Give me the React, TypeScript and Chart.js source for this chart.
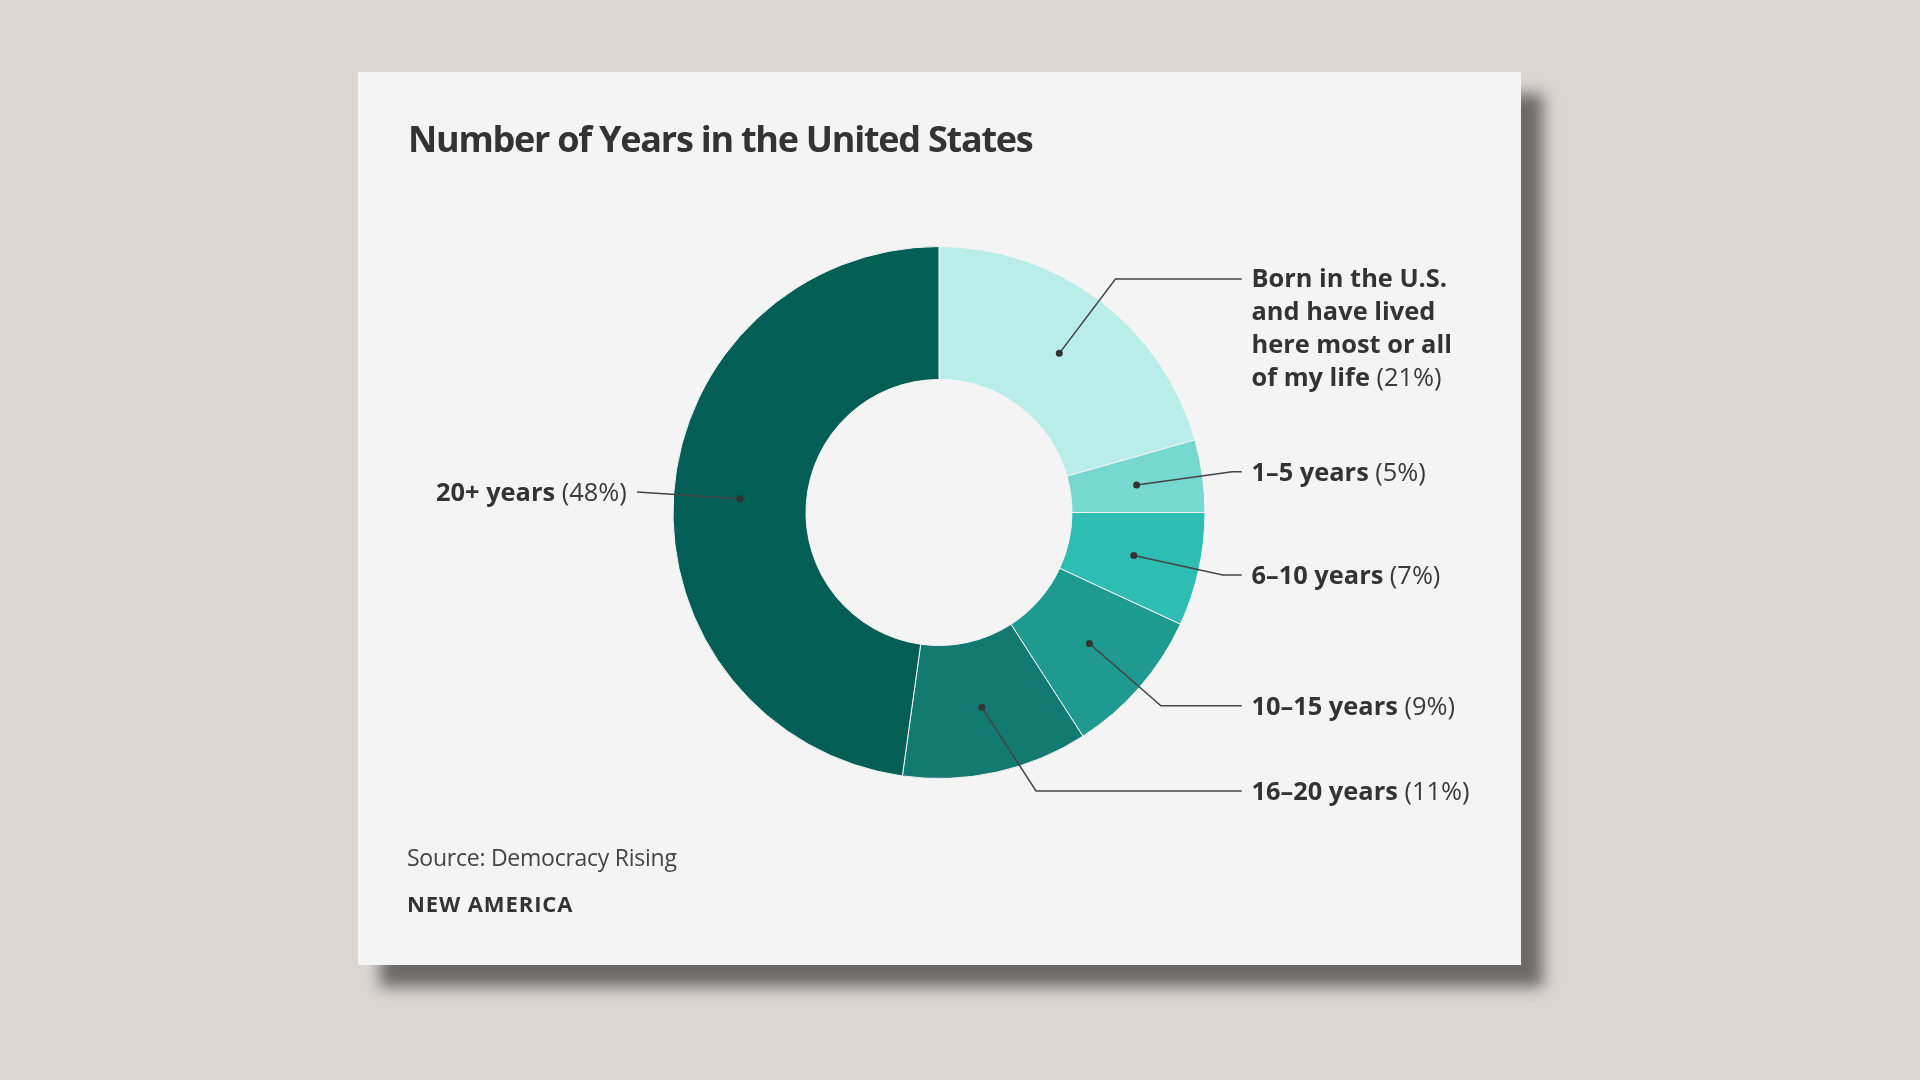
import React, { useEffect, useRef } from "react";
import { Chart, registerables } from "chart.js";

Chart.register(...registerables);

// ---- Data ----
const categories = [
  "Born in the U.S. and have lived here most or all of my life",
  "1–5 years",
  "6–10 years",
  "10–15 years",
  "16–20 years",
  "20+ years",
];
const shares = [20.6, 4.4, 6.9, 9.0, 11.3, 47.8];
// printed percentages
const percentLabels = ["21%", "5%", "7%", "9%", "11%", "48%"];
// label text lines (bold part)
const labelLines = [
  ["Born in the U.S.", "and have lived", "here most or all", "of my life"],
  ["1–5 years"],
  ["6–10 years"],
  ["10–15 years"],
  ["16–20 years"],
  ["20+ years"],
];
const sliceColors = ["#b9ede9", "#76d8d0", "#2ebdb3", "#1e9a90", "#127a70", "#035e55"];

// ---- Layout (positions of labels relative to the ring centre) ----
const labelLayout = [
  { side: "right", dy: -233.5, angle: null as number | null },
  { side: "right", dy: -40.8, angle: null as number | null },
  { side: "right", dy: 62.5, angle: null as number | null },
  { side: "right", dy: 193.2, angle: null as number | null },
  { side: "right", dy: 278.5, angle: 57.1 as number | null },
  { side: "left", dy: -20.5, angle: null as number | null },
];

const FONT = '"Open Sans", "DejaVu Sans", sans-serif';
const LABEL_SIZE = 25.4;
const LINE_GAP = 33.2;
const TEXT_COLOR = "#333333";

const leaderPlugin = {
  id: "leaders",
  afterDatasetsDraw(chart: any) {
    const ctx: CanvasRenderingContext2D = chart.ctx;
    const meta = chart.getDatasetMeta(0);
    ctx.save();
    meta.data.forEach((arc: any, i: number) => {
      const p = arc.getProps(["x", "y", "startAngle", "endAngle", "innerRadius", "outerRadius"], true);
      const cx = p.x, cy = p.y;
      const mid = (p.startAngle + p.endAngle) / 2;
      const r = (p.innerRadius + p.outerRadius) / 2;
      const px = cx + Math.cos(mid) * r;
      const py = cy + Math.sin(mid) * r;
      const lay = labelLayout[i];
      const ly = cy + lay.dy;
      const dirA = lay.angle != null ? (lay.angle * Math.PI) / 180 : mid;

      ctx.strokeStyle = "#444444";
      ctx.lineWidth = 1.5;
      ctx.beginPath();
      ctx.moveTo(px, py);
      if (lay.side === "right") {
        const endX = cx + 302.7;
        const s = Math.sin(dirA);
        const t = Math.abs(s) > 1e-6 ? (ly - py) / s : 0;
        const ex = px + Math.cos(dirA) * t;
        ctx.lineTo(ex, ly);
        ctx.lineTo(endX, ly);
      } else {
        const endX = cx - 302;
        ctx.lineTo(endX, ly);
      }
      ctx.stroke();

      ctx.fillStyle = "#333333";
      ctx.beginPath();
      ctx.arc(px, py, 3.5, 0, Math.PI * 2);
      ctx.fill();

      // text
      const lines = labelLines[i];
      const pct = "(" + percentLabels[i] + ")";
      const bold = `bold ${LABEL_SIZE}px ${FONT}`;
      const reg = `${LABEL_SIZE}px ${FONT}`;
      const capHalf = LABEL_SIZE * 0.357;
      ctx.textBaseline = "alphabetic";
      ctx.textAlign = "left";
      ctx.fillStyle = TEXT_COLOR;
      const firstY = lines.length > 1 ? ly - 1.5 : ly;
      lines.forEach((line, k) => {
        const yBase = firstY + k * LINE_GAP + capHalf;
        const last = k === lines.length - 1;
        ctx.font = bold;
        const wb = ctx.measureText(line + (last ? " " : "")).width;
        ctx.font = reg;
        const wp = last ? ctx.measureText(pct).width : 0;
        let x0 = lay.side === "right" ? cx + 312.5 : cx - 312.3 - (wb + wp);
        ctx.font = bold;
        ctx.fillText(line + (last ? " " : ""), x0, yBase);
        if (last) {
          ctx.font = reg;
          ctx.fillStyle = "#3a3a3a";
          ctx.fillText(pct, x0 + wb, yBase);
          ctx.fillStyle = TEXT_COLOR;
        }
      });
    });
    ctx.restore();
  },
};

const CARD_W = 1163;
const CARD_H = 893;

function DonutChart() {
  const ref = useRef<HTMLCanvasElement | null>(null);
  useEffect(() => {
    if (!ref.current) return;
    const chart = new Chart(ref.current, {
      type: "doughnut",
      data: {
        labels: categories,
        datasets: [
          {
            data: shares,
            backgroundColor: sliceColors,
            borderColor: "#f4f4f4",
            borderWidth: 1,
            hoverOffset: 0,
          },
        ],
      },
      options: {
        responsive: false,
        animation: false,
        cutout: "50%",
        radius: 266,
        layout: { padding: { left: 315, right: 316, top: 174.5, bottom: 186.5 } },
        plugins: {
          legend: { display: false },
          tooltip: { enabled: false },
        },
        events: [],
      },
      plugins: [leaderPlugin],
    });
    return () => chart.destroy();
  }, []);
  return (
    <canvas
      ref={ref}
      width={CARD_W}
      height={CARD_H}
      style={{ position: "absolute", left: 0, top: 0, width: CARD_W, height: CARD_H }}
    />
  );
}

export default function App() {
  return (
    <div style={{ position: "fixed", inset: 0, background: "#dbd6d2", overflow: "hidden" }}>
      <div
        style={{
          position: "absolute",
          left: 358,
          top: 72,
          width: CARD_W,
          height: CARD_H,
          background: "#f4f4f4",
          boxShadow: "22px 22px 14px rgba(0,0,0,0.5)",
        }}
      >
        <DonutChart />
        <div
          style={{
            position: "absolute",
            left: 50,
            top: 48.6,
            fontFamily: FONT,
            fontWeight: 700,
            fontSize: 36,
            lineHeight: "36px",
            letterSpacing: "-1.25px",
            color: "#333333",
            whiteSpace: "nowrap",
          }}
        >
          Number of Years in the United States
        </div>
        <div
          style={{
            position: "absolute",
            left: 49,
            top: 773.8,
            fontFamily: FONT,
            fontWeight: 400,
            fontSize: 23,
            lineHeight: "23px",
            letterSpacing: "-0.25px",
            color: "#444444",
            whiteSpace: "nowrap",
          }}
        >
          Source: Democracy Rising
        </div>
        <div
          style={{
            position: "absolute",
            left: 49,
            top: 820.3,
            fontFamily: FONT,
            fontWeight: 700,
            fontSize: 22,
            lineHeight: "22px",
            letterSpacing: "0.9px",
            color: "#333333",
            whiteSpace: "nowrap",
          }}
        >
          NEW AMERICA
        </div>
      </div>
    </div>
  );
}
